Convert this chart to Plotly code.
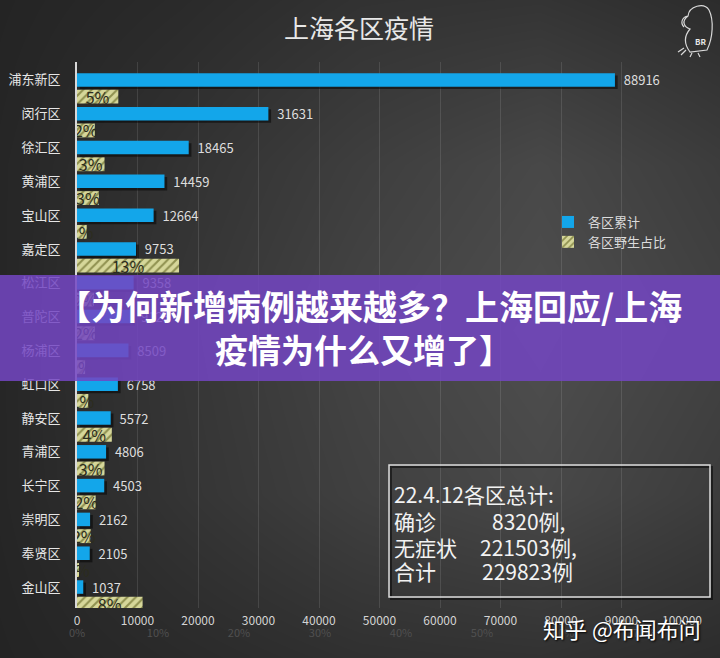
import plotly.graph_objects as go

# ---------------- data ----------------
categories = ["浦东新区", "闵行区", "徐汇区", "黄浦区", "宝山区", "嘉定区", "松江区", "普陀区",
              "杨浦区", "虹口区", "静安区", "青浦区", "长宁区", "崇明区", "奉贤区", "金山区"]
cases = [88916, 31631, 18465, 14459, 12664, 9753, 9358, 9125,
         8509, 6758, 5572, 4806, 4503, 2162, 2105, 1037]
wild_share = [0.051, 0.022, 0.034, 0.027, 0.012, 0.126, 0.021, 0.022,
              0.010, 0.014, 0.043, 0.034, 0.023, 0.017, 0.002, 0.081]
case_ticks = [0, 10000, 20000, 30000, 40000, 50000, 60000, 70000, 80000, 90000, 100000]
share_ticks = [0, 0.1, 0.2, 0.3, 0.4, 0.5, 0.6, 0.7]
series_names = ["各区累计", "各区野生占比"]
summary_title = "22.4.12各区总计:"
summary_labels = ["确诊", "无症状", "合计"]
summary_values = ["8320例,", "221503例,", "229823例"]
chart_title = "上海各区疫情"
banner_lines = ["【为何新增病例越来越多？上海回应/上海", "疫情为什么又增了】"]
watermark = "知乎 @布闻布问"
logo_text = "BR"

# ---------------- style helpers ----------------
W, H = 720, 658
FONT = "Noto Sans CJK SC"


def px(x):
    return x / W


def py(y):
    return 1 - y / H


# background radial-ish gradient (style only)
bg_x = [0, 180, 360, 540, 720]
bg_y = [0, 165, 330, 495, 658]
bg_z = [[36, 42, 50, 52, 44],
        [38, 50, 62, 72, 60],
        [38, 54, 68, 78, 66],
        [38, 52, 64, 72, 60],
        [36, 42, 48, 50, 44]]

fig = go.Figure()

fig.add_trace(go.Heatmap(
    x=bg_x, y=bg_y, z=bg_z, zmin=0, zmax=255, zsmooth="best",
    colorscale=[[0, "rgb(0,0,0)"], [1, "rgb(255,255,255)"]],
    showscale=False, hoverinfo="skip", xaxis="x", yaxis="y"))

# shadow of the blue bars
fig.add_trace(go.Bar(
    y=categories, x=cases, orientation="h", base=450,
    offset=-0.13, width=0.4,
    marker=dict(color="rgba(0,0,0,0.5)", line=dict(width=0)),
    showlegend=False, hoverinfo="skip", xaxis="x2", yaxis="y2"))

fig.add_trace(go.Bar(
    y=categories, x=cases, orientation="h", name=series_names[0],
    offset=-0.2, width=0.4,
    marker=dict(color="#13a6ea", line=dict(width=0)),
    text=["\u00a0\u00a0" + str(v) for v in cases], textposition="outside",
    textfont=dict(color="#dedede", size=13, family=FONT),
    constraintext="none", cliponaxis=False, textangle=0,
    hoverinfo="skip", xaxis="x2", yaxis="y2"))

fig.add_trace(go.Bar(
    y=categories, x=wild_share, orientation="h", name=series_names[1],
    offset=0.29, width=0.41,
    marker=dict(color="#d6d79a", line=dict(width=0),
                pattern=dict(shape="/", bgcolor="#d6d79a", fgcolor="#8f9150",
                             size=6, solidity=0.35, fillmode="replace")),
    texttemplate="%{x:.0%}", textposition="inside", insidetextanchor="middle",
    textfont=dict(color="#2c2c1e", size=16, family=FONT),
    constraintext="none", textangle=0, cliponaxis=True,
    hoverinfo="skip", xaxis="x3", yaxis="y2"))

dom_x = [px(77), px(682)]
dom_y = [py(608), py(62)]


def pth(points):
    return points


logo_path = ("M 688,16 C 689,6 704,2 709,10 C 714,20 713,38 707,50 "
             "L 690,52 C 684,44 684,36 690,29 C 684,27 681,21 688,16 Z "
             "M 688,16 C 682,17 680,23 684,27 "
             "M 684,48 L 678,52 M 686,50 L 681,55 M 692,53 L 690,57 M 698,53 L 700,57")

shapes = [
    # purple banner
    dict(type="rect", xref="paper", yref="paper", x0=0, x1=1, y0=py(381), y1=py(275),
         fillcolor="rgba(115,70,195,0.86)", line=dict(width=0), layer="above"),
    # summary box shadow + box
    dict(type="rect", xref="paper", yref="paper", x0=px(391), x1=px(712), y0=py(599), y1=py(467),
         fillcolor="rgba(0,0,0,0)", line=dict(color="rgba(0,0,0,0.5)", width=2), layer="above"),
    dict(type="rect", xref="paper", yref="paper", x0=px(389), x1=px(710), y0=py(597), y1=py(465),
         fillcolor="rgba(0,0,0,0)", line=dict(color="#dcdcdc", width=1.5), layer="above"),
    # parrot logo outline (decoration, in background-axis pixel units)
    dict(type="path", xref="x", yref="y", path=logo_path,
         line=dict(color="#d8d8d8", width=1.2), fillcolor="rgba(0,0,0,0)", layer="above"),
]

annotations = [
    dict(text=chart_title, x=px(359), y=py(27), xref="paper", yref="paper",
         showarrow=False, xanchor="center", yanchor="middle",
         font=dict(family=FONT, size=25, color="#e8e8e8")),
    dict(text=f"<b>{banner_lines[0]}</b>", x=px(370), y=py(305), xref="paper", yref="paper",
         showarrow=False, xanchor="center", yanchor="middle",
         font=dict(family=FONT, size=34, color="#ffffff")),
    dict(text=f"<b>{banner_lines[1]}</b>", x=px(363), y=py(349), xref="paper", yref="paper",
         showarrow=False, xanchor="center", yanchor="middle",
         font=dict(family=FONT, size=33, color="#ffffff")),
    dict(text=summary_title, x=px(392), y=py(494), xref="paper", yref="paper",
         showarrow=False, xanchor="left", yanchor="middle",
         font=dict(family=FONT, size=21, color="#f2f2f2")),
    dict(text=watermark, x=px(622), y=py(628), xref="paper", yref="paper",
         showarrow=False, xanchor="center", yanchor="middle",
         font=dict(family=FONT, size=22, color="#ffffff", shadow="1px 1px 2px #000")),
    dict(text=f"<b>{logo_text}</b>", x=px(700), y=py(41), xref="paper", yref="paper",
         showarrow=False, xanchor="center", yanchor="middle",
         font=dict(family=FONT, size=8, color="#e8e8e8")),
]
row_y = [521, 547, 571]
val_x = [490, 478, 480]
for lab, val, yy, vx in zip(summary_labels, summary_values, row_y, val_x):
    annotations.append(dict(text=lab, x=px(392), y=py(yy), xref="paper", yref="paper",
                            showarrow=False, xanchor="left", yanchor="middle",
                            font=dict(family=FONT, size=21, color="#f2f2f2")))
    annotations.append(dict(text=val, x=px(vx), y=py(yy), xref="paper", yref="paper",
                            showarrow=False, xanchor="left", yanchor="middle",
                            font=dict(family=FONT, size=21, color="#f2f2f2")))

fig.update_layout(
    width=W, height=H, margin=dict(l=0, r=0, t=0, b=0, pad=0, autoexpand=False),
    paper_bgcolor="#333333", plot_bgcolor="rgba(0,0,0,0)",
    barmode="overlay", showlegend=True,
    font=dict(family=FONT),
    xaxis=dict(domain=[0, 1], range=[0, 720], visible=False, fixedrange=True, automargin=False),
    yaxis=dict(domain=[0, 1], range=[658, 0], visible=False, fixedrange=True, automargin=False),
    xaxis2=dict(domain=dom_x, anchor="y2", range=[0, 100000], tickvals=case_ticks,
                ticktext=[str(t) for t in case_ticks], automargin=False,
                showgrid=True, gridcolor="rgba(255,255,255,0.11)", gridwidth=1,
                zeroline=False, showline=False, ticks="",
                tickfont=dict(family=FONT, size=12, color="#d4d4d4"),
                ticklabelstandoff=4),
    xaxis3=dict(overlaying="x2", anchor="y2", side="bottom", automargin=False,
                range=[0, 605 / 810], tickvals=share_ticks, tickformat=".0%",
                showgrid=False, zeroline=False, showline=False, ticks="",
                tickfont=dict(family=FONT, size=11, color="#505050"),
                ticklabelstandoff=17),
    yaxis2=dict(domain=dom_y, anchor="x2", type="category", automargin=False,
                categoryorder="array", categoryarray=categories,
                range=[15.62, -0.53], autorange=False,
                showgrid=False, zeroline=False, ticks="",
                showline=True, linecolor="#d8d8d8", linewidth=2,
                tickfont=dict(family=FONT, size=13, color="#e6e6e6"),
                ticklabelstandoff=12),
    legend=dict(x=px(548), y=py(207), xanchor="left", yanchor="top",
                bgcolor="rgba(0,0,0,0)", font=dict(family=FONT, size=13, color="#dcdcdc"),
                traceorder="normal", tracegroupgap=4),
    shapes=shapes, annotations=annotations,
)

fig.write_html("out.html")
